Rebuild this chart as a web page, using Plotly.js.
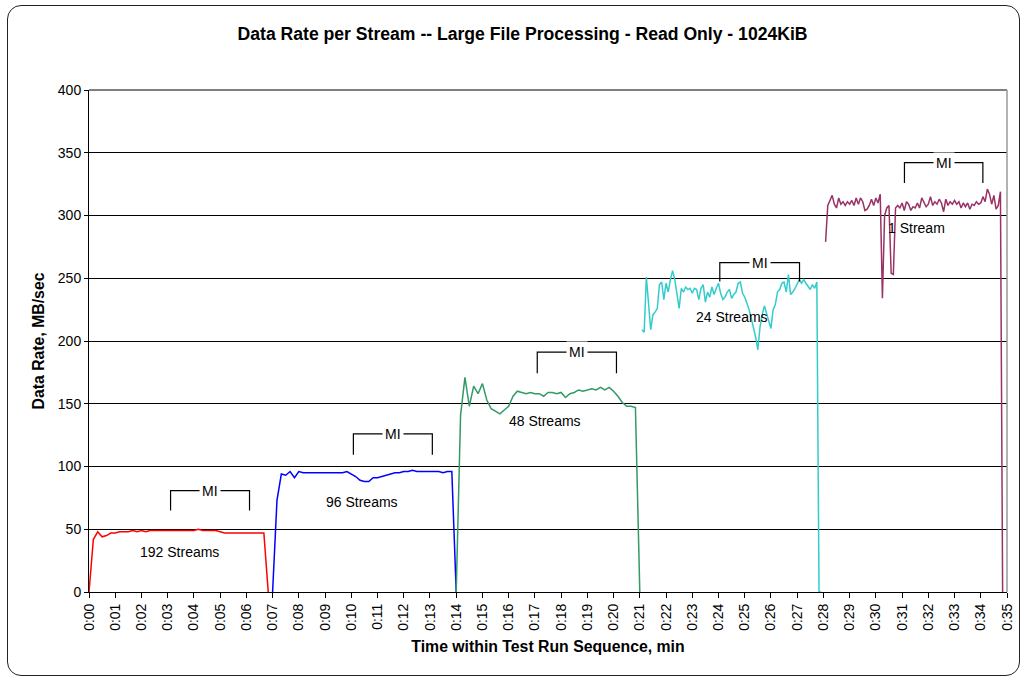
<!DOCTYPE html>
<html>
<head>
<meta charset="utf-8">
<script src="https://cdn.plot.ly/plotly-3.0.1.min.js"></script>
<style>
  html, body { margin: 0; padding: 0; background: #fff; overflow: hidden; }
  #wrap { position: relative; width: 1023px; height: 677px; }
  #chart { position: absolute; left: 0; top: 0; width: 1023px; height: 677px; }
  #frame { position: absolute; left: 7px; top: 5px; width: 1011px; height: 669px;
           border: 1.5px solid #222; border-radius: 14px; pointer-events: none; }
</style>
</head>
<body>
<div id="wrap"><div id="chart"></div><div id="frame"></div></div>
<script>
// ---------------- data ----------------
const tickMinutes = [0,1,2,3,4,5,6,7,8,9,10,11,12,13,14,15,16,17,18,19,20,21,22,23,24,25,26,27,28,29,30,31,32,33,34,35];
const tickLabels = ["0:00","0:01","0:02","0:03","0:04","0:05","0:06","0:07","0:08","0:09","0:10","0:11","0:12","0:13","0:14","0:15","0:16","0:17","0:18","0:19","0:20","0:21","0:22","0:23","0:24","0:25","0:26","0:27","0:28","0:29","0:30","0:31","0:32","0:33","0:34","0:35"];

// 192 streams: samples every 10 s from 0:00
const streams192Start = 0;
const streams192Step = 1/6;
const streams192 = [0,42,48,44,45,47,47,48,48,48,49,48,49,48,49,49,49,49,49,49,49,49,49,49,49,50,49,49,49,49,48,47,47,47,47,47,47,47,47,47,47,0];

// 96 streams: samples every 10 s from 0:07
const streams96Start = 7;
const streams96Step = 1/6;
const streams96 = [0,73,94,93,96,91,96,95,95,95,95,95,95,95,95,95,95,96,94,92,89,88,88,91,91,92,93,94,95,95,96,96,97,96,96,96,96,96,96,95,96,96,0];

// 48 streams: samples every 10 s from 0:14
const streams48Start = 14;
const streams48Step = 1/6;
const streams48 = [0,141,171,148,164,158,166,153,146,144,142,145,148,156,160,159,158,159,158,158,156,159,159,158,159,155,158,159,161,160,161,162,161,163,161,163,160,156,151,148,148,147,0];

// 24 streams: samples every 5 s from 0:21:05
const streams24Start = 21 + 1/12;
const streams24Step = 1/12;
const streams24 = [209,207,251,233,209,221,223,226,245,247,
  233,246,239,249,256,249,238,226,242,239,
  243,241,242,238,242,241,233,242,245,231,
  239,235,243,237,242,246,238,233,235,239,
  241,234,237,239,246,247,238,235,230,225,
  218,211,203,193,211,221,228,222,215,210,
  225,229,239,241,246,247,239,253,237,239,
  242,245,249,246,249,246,243,241,245,242,
  247,0,0];

// 1 stream: samples every 5 s from 0:28:05
const streams1Start = 28 + 1/12;
const streams1Step = 1/12;
const streams1 = [279,308,312,316,309,306,314,309,311,308,
  311,309,312,308,314,309,314,311,304,305,
  308,313,308,314,310,317,234,300,306,308,
  254,253,306,308,306,310,304,311,309,304,
  307,306,310,306,314,311,307,309,315,308,
  311,309,313,310,303,313,308,311,309,312,
  309,311,306,310,307,310,305,309,308,311,
  309,310,315,311,321,317,309,316,305,308,
  319,0];

const streamLabels = ["192 Streams","96 Streams","48 Streams","24 Streams","1 Stream"];
const miLabel = "MI";

// ---------------- layout helpers ----------------
function sampleTimes(start, step, n) {
  const out = [];
  for (let i = 0; i < n; i++) out.push(start + i * step);
  return out;
}

const FONT = '"Liberation Sans", Arial, Helvetica, sans-serif';

const seriesDefs = [
  {y: streams192, start: streams192Start, step: streams192Step, color: '#FF0000'},
  {y: streams96,  start: streams96Start,  step: streams96Step,  color: '#0000FF'},
  {y: streams48,  start: streams48Start,  step: streams48Step,  color: '#339966'},
  {y: streams24,  start: streams24Start,  step: streams24Step,  color: '#33CCCC'},
  {y: streams1,   start: streams1Start,   step: streams1Step,   color: '#993366'}
];

const traces = seriesDefs.map(s => ({
  type: 'scatter',
  mode: 'lines',
  x: sampleTimes(s.start, s.step, s.y.length),
  y: s.y,
  line: {color: s.color, width: 1.5},
  hoverinfo: 'skip',
  showlegend: false
}));

// label placements (minutes, MB/sec)
const labelPos = [[3.44, 31.5],[10.42, 71.4],[17.4, 136.4],[24.52, 219.5],[31.54, 290]];
// MI bracket placements: [start, end, top, bottom]
const bracketPos = [[3.11, 6.12, 80.7, 65],[10.08, 13.09, 126, 109.4],[17.09, 20.11, 191.2, 174.4],[24.05, 27.09, 262.5, 247.4],[31.09, 34.08, 342.2, 325.8]];

const shapes = bracketPos.map(b => ({
  type: 'path', xref: 'x', yref: 'y',
  path: `M ${b[0]},${b[3]} L ${b[0]},${b[2]} L ${b[1]},${b[2]} L ${b[1]},${b[3]}`,
  line: {color: '#000', width: 1.2}
}));
// plot-area top edge (black) and right border (grey)
shapes.push({type: 'line', xref: 'paper', yref: 'paper', x0: 0, x1: 1, y0: 1, y1: 1,
             line: {color: '#000', width: 1}});
shapes.push({type: 'line', xref: 'paper', yref: 'paper', x0: 1, x1: 1, y0: 0, y1: 1,
             line: {color: '#999', width: 1.5}});

const annotations = [];
labelPos.forEach((p, i) => annotations.push({
  x: p[0], y: p[1], xref: 'x', yref: 'y', text: streamLabels[i], showarrow: false,
  font: {family: FONT, size: 14, color: '#000'}
}));
bracketPos.forEach(b => annotations.push({
  x: (b[0] + b[1]) / 2, y: b[2], xref: 'x', yref: 'y', text: miLabel, showarrow: false,
  bgcolor: '#fff', borderpad: 2, font: {family: FONT, size: 14, color: '#000'}
}));

const layout = {
  width: 1023, height: 677,
  margin: {l: 88.5, r: 15.5, t: 90, b: 84.7, pad: 0},
  paper_bgcolor: 'rgba(0,0,0,0)', plot_bgcolor: '#fff',
  font: {family: FONT, size: 14, color: '#000'},
  title: {
    text: '<b>Data Rate per Stream -- Large File Processing - Read Only - 1024KiB</b>',
    font: {family: FONT, size: 17.6, color: '#000'},
    xref: 'container', yref: 'container', x: 0.5108, y: 1 - 34/677,
    xanchor: 'center', yanchor: 'middle'
  },
  xaxis: {
    type: 'linear', range: [0, 35], tickmode: 'array', tickvals: tickMinutes, ticktext: tickLabels,
    tickangle: -90, ticks: 'outside', ticklen: 5, tickcolor: '#000', tickwidth: 1,
    showline: true, linecolor: '#000', linewidth: 1, showgrid: false, zeroline: false,
    tickfont: {family: FONT, size: 14, color: '#000'},
    title: {text: '<b>Time within Test Run Sequence, min</b>', standoff: 11,
            font: {family: FONT, size: 15.8, color: '#000'}},
    automargin: false, fixedrange: true
  },
  yaxis: {
    range: [0, 400], tickvals: [0,50,100,150,200,250,300,350,400],
    ticks: 'outside', ticklen: 4, tickcolor: '#000', tickwidth: 1,
    showline: true, linecolor: '#000', linewidth: 1,
    showgrid: true, gridcolor: '#000', gridwidth: 1, zeroline: false,
    tickfont: {family: FONT, size: 14, color: '#000'},
    title: {text: '<b>Data Rate, MB/sec</b>', standoff: 9,
            font: {family: FONT, size: 15.8, color: '#000'}},
    automargin: false, fixedrange: true
  },
  shapes: shapes,
  annotations: annotations,
  showlegend: false
};

Plotly.newPlot('chart', traces, layout, {displayModeBar: false, staticPlot: true});
</script>
</body>
</html>
